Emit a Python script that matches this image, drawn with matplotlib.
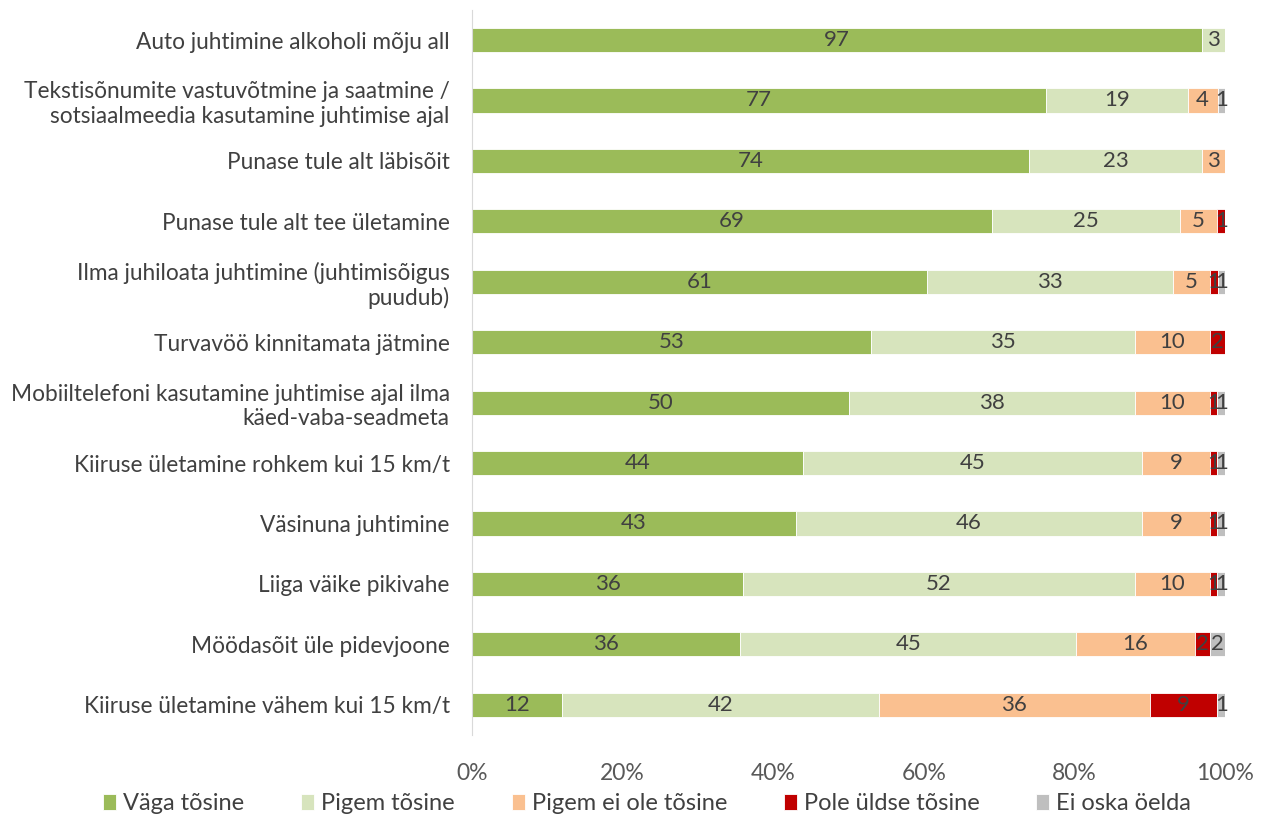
import numpy as np
import matplotlib.pyplot as plt
from matplotlib.ticker import PercentFormatter

plt.rcParams['font.family'] = ['Lato', 'DejaVu Sans']

categories = [
    'Auto juhtimine alkoholi mõju all',
    'Tekstisõnumite vastuvõtmine ja saatmine /\nsotsiaalmeedia kasutamine juhtimise ajal',
    'Punase tule alt läbisõit',
    'Punase tule alt tee ületamine',
    'Ilma juhiloata juhtimine (juhtimisõigus\npuudub)',
    'Turvavöö kinnitamata jätmine',
    'Mobiiltelefoni kasutamine juhtimise ajal ilma\nkäed-vaba-seadmeta',
    'Kiiruse ületamine rohkem kui 15 km/t',
    'Väsinuna juhtimine',
    'Liiga väike pikivahe',
    'Möödasõit üle pidevjoone',
    'Kiiruse ületamine vähem kui 15 km/t',
]
series = ['Väga tõsine', 'Pigem tõsine', 'Pigem ei ole tõsine',
          'Pole üldse tõsine', 'Ei oska öelda']
vaga = [97, 77, 74, 69, 61, 53, 50, 44, 43, 36, 36, 12]
pigem = [3, 19, 23, 25, 33, 35, 38, 45, 46, 52, 45, 42]
pigem_ei = [0, 4, 3, 5, 5, 10, 10, 9, 9, 10, 16, 36]
pole = [0, 0, 0, 1, 1, 2, 1, 1, 1, 1, 2, 9]
ei_oska = [0, 1, 0, 0, 1, 0, 1, 1, 1, 1, 2, 1]
colors = ['#9BBB59', '#D7E4BD', '#FAC090', '#C00000', '#BFBFBF']

data = np.array([vaga, pigem, pigem_ei, pole, ei_oska], dtype=float)
share = data / data.sum(axis=0) * 100  # 100% stacked

fig = plt.figure(figsize=(12.69, 8.19), dpi=100)
ax = fig.add_axes([0.372, 0.1026, 0.5933, 0.8854])
y = np.arange(len(categories))
left = np.zeros(len(categories))
for i, name in enumerate(series):
    bars = ax.barh(y, share[i], left=left, height=0.4, color=colors[i],
                   label=name, edgecolor='white', linewidth=0.6)
    labels = [('%d' % v if v > 0 else '') for v in data[i]]
    ax.bar_label(bars, labels=labels, label_type='center',
                 fontsize=16, color='#404040')
    left += share[i]

ax.set_ylim(len(categories) - 0.5, -0.5)
ax.set_xlim(0, 100)
ax.set_yticks(y)
ax.set_yticklabels(categories, fontsize=16.3, color='#404040')
ax.set_xticks(np.arange(0, 101, 20))
ax.xaxis.set_major_formatter(PercentFormatter(decimals=0))
ax.tick_params(axis='x', labelsize=16.5, colors='#595959', length=0, pad=20)
ax.tick_params(axis='y', length=0, pad=16)
for s in ['top', 'right', 'bottom']:
    ax.spines[s].set_visible(False)
ax.spines['left'].set_color('#D9D9D9')

fig.legend(loc='lower center', bbox_to_anchor=(0.51, -0.02), ncol=5,
           frameon=False, fontsize=17, handlelength=0.55, handleheight=0.7,
           columnspacing=2.4, handletextpad=0.3, labelcolor='#404040')

fig.savefig('out.png', dpi=100)
